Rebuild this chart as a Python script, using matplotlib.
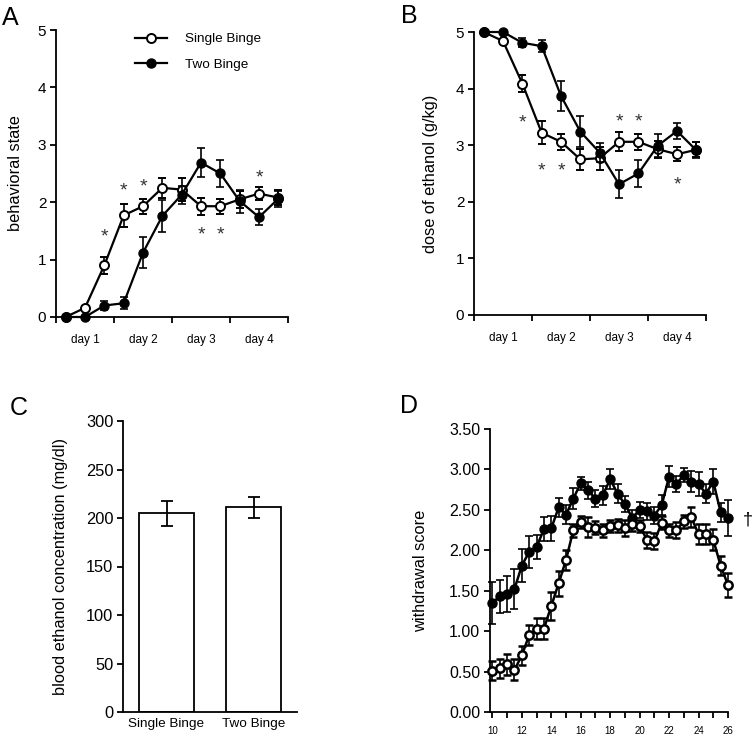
import numpy as np
import matplotlib
matplotlib.use("Agg")
import matplotlib.pyplot as plt

plt.rcParams["font.family"] = ["Liberation Sans", "DejaVu Sans"]

# panel A / B : 12 sessions, 3 per day
sessions = np.arange(12)
day_labels = ["day 1", "day 2", "day 3", "day 4"]

a_single = [0, 0.16, 0.90, 1.77, 1.93, 2.25, 2.22, 1.93, 1.93, 2.05, 2.15, 2.08]
a_single_err = [0, 0, 0.15, 0.20, 0.13, 0.18, 0.20, 0.15, 0.13, 0.15, 0.12, 0.13]
a_two = [0, 0, 0.20, 0.24, 1.12, 1.76, 2.13, 2.69, 2.50, 2.02, 1.74, 2.06]
a_two_err = [0, 0, 0.08, 0.10, 0.27, 0.28, 0.16, 0.25, 0.23, 0.20, 0.14, 0.14]
a_stars_x = [2, 3, 4, 7, 8, 10]
a_stars_y = [1.51, 2.31, 2.38, 1.54, 1.54, 2.54]

b_single = [5.0, 4.84, 4.09, 3.22, 3.06, 2.75, 2.77, 3.06, 3.06, 2.93, 2.84, 2.92]
b_single_err = [0, 0, 0.15, 0.20, 0.14, 0.18, 0.20, 0.17, 0.14, 0.15, 0.12, 0.13]
b_two = [5.0, 5.0, 4.81, 4.75, 3.87, 3.24, 2.87, 2.31, 2.50, 2.99, 3.25, 2.91]
b_two_err = [0, 0, 0.08, 0.10, 0.27, 0.28, 0.17, 0.25, 0.24, 0.20, 0.14, 0.14]
b_stars_x = [2, 3, 4, 7, 8, 10]
b_stars_y = [3.51, 2.66, 2.66, 3.53, 3.53, 2.41]

# panel C
groups = ["Single Binge", "Two Binge"]
bec = [205, 211]
bec_err = [13, 10.5]

# panel D
hours = np.arange(10, 26.5, 0.5)
d_two = [1.35, 1.43, 1.46, 1.52, 1.81, 1.98, 2.04, 2.26, 2.27, 2.53, 2.44, 2.64,
         2.83, 2.74, 2.64, 2.68, 2.88, 2.70, 2.57, 2.40, 2.50, 2.48, 2.43, 2.56,
         2.91, 2.82, 2.93, 2.85, 2.82, 2.70, 2.85, 2.47, 2.40]
d_two_err = [0.26, 0.20, 0.22, 0.25, 0.20, 0.20, 0.15, 0.15, 0.15, 0.12, 0.12, 0.13,
             0.08, 0.10, 0.10, 0.12, 0.12, 0.12, 0.10, 0.10, 0.10, 0.10, 0.10, 0.12,
             0.13, 0.10, 0.09, 0.13, 0.15, 0.12, 0.15, 0.12, 0.22]
d_single = [0.51, 0.54, 0.59, 0.52, 0.70, 0.95, 1.03, 1.03, 1.31, 1.59, 1.88, 2.25,
            2.35, 2.29, 2.28, 2.25, 2.30, 2.31, 2.28, 2.32, 2.30, 2.13, 2.11, 2.34,
            2.25, 2.25, 2.36, 2.41, 2.20, 2.20, 2.13, 1.81, 1.57]
d_single_err = [0.12, 0.12, 0.13, 0.13, 0.12, 0.12, 0.13, 0.13, 0.17, 0.15, 0.12, 0.08,
                0.08, 0.12, 0.08, 0.08, 0.08, 0.08, 0.10, 0.08, 0.08, 0.10, 0.10, 0.08,
                0.08, 0.10, 0.08, 0.12, 0.12, 0.12, 0.13, 0.12, 0.15]

fig = plt.figure(figsize=(7.56, 7.37), dpi=100)


def px_axes(l, t, r, b):
    W, H = 756, 737
    return fig.add_axes([l / W, 1 - b / H, (r - l) / W, (b - t) / H])


def style(ax, fs=11):
    for s in ["top", "right"]:
        ax.spines[s].set_visible(False)
    for s in ["left", "bottom"]:
        ax.spines[s].set_linewidth(1.3)
    ax.tick_params(direction="out", length=4, width=1.3, labelsize=fs, pad=3)


def unclip(container):
    for art in container.get_children():
        art.set_clip_on(False)


def session_panel(ax, single, single_err, two, two_err, sx, sy, ylabel, lab_x):
    c1 = ax.errorbar(sessions, single, yerr=single_err, fmt="-o", color="black", lw=1.6,
                     ms=6.5, mfc="white", mec="black", mew=1.4, capsize=3, elinewidth=1.2,
                     capthick=1.2, zorder=3)
    c2 = ax.errorbar(sessions, two, yerr=two_err, fmt="-o", color="black", lw=1.6,
                     ms=6.5, mfc="black", mec="black", capsize=3, elinewidth=1.2,
                     capthick=1.2, zorder=4)
    unclip(c1)
    unclip(c2)
    for x, y in zip(sx, sy):
        ax.annotate("*", (x, y), xytext=(0, -8), textcoords="offset points",
                    ha="center", va="baseline", fontsize=14, color="#333333")
    ax.set_xlim(-0.5, 11.5)
    ax.set_ylim(0, 5)
    ax.set_yticks(range(6))
    ax.set_xticks([-0.5, 2.5, 5.5, 8.5, 11.5])
    ax.set_xticklabels([])
    ax.set_xticks([1, 4, 7, 10], minor=True)
    ax.set_xticklabels(day_labels, minor=True)
    ax.tick_params(axis="x", which="minor", length=0, labelsize=8.5, pad=12)
    ax.set_ylabel(ylabel, fontsize=11.8)
    ax.yaxis.set_label_coords(lab_x, 0.5)
    return c1, c2


# A
axA = px_axes(56, 30, 288, 317)
style(axA)
cA1, cA2 = session_panel(axA, a_single, a_single_err, a_two, a_two_err,
                         a_stars_x, a_stars_y, "behavioral state", -0.142)
axA.legend([cA1[0], cA2[0]], ["Single Binge", "Two Binge"], loc="upper left",
           bbox_to_anchor=(0.34, 0.99), frameon=False, fontsize=9.7,
           handlelength=2.4, handletextpad=1.3, labelspacing=0.95,
           borderpad=0, borderaxespad=0)

# B
axB = px_axes(474, 32, 706, 315)
style(axB)
session_panel(axB, b_single, b_single_err, b_two, b_two_err, b_stars_x, b_stars_y,
              "dose of ethanol (g/kg)", -0.155)

# C
axC = px_axes(123, 421, 297, 712)
style(axC, fs=11.8)
axC.bar([0, 1], bec, width=0.63, yerr=bec_err, color="white", edgecolor="black",
        linewidth=1.3, capsize=4, error_kw=dict(elinewidth=1.3, capthick=1.3))
axC.set_xlim(-0.5, 1.5)
axC.set_ylim(0, 300)
axC.set_yticks(range(0, 301, 50))
axC.set_xticks([0, 1])
axC.set_xticklabels(groups, fontsize=9.7)
axC.tick_params(axis="x", length=0, pad=4)
axC.set_ylabel("blood ethanol concentration (mg/dl)", fontsize=11.8)
axC.yaxis.set_label_coords(-0.316, 0.5)

# D
axD = px_axes(490, 429, 728, 712)
style(axD, fs=11.5)
cD1 = axD.errorbar(hours, d_two, yerr=d_two_err, fmt="-o", color="black", lw=1.8,
                   ms=6.5, mfc="black", mec="black", capsize=3, elinewidth=1.2,
                   capthick=1.2, zorder=3)
cD2 = axD.errorbar(hours, d_single, yerr=d_single_err, fmt="-o", color="black", lw=1.8,
                   ms=6, mfc="white", mec="black", mew=1.8, capsize=3, elinewidth=1.2,
                   capthick=1.2, zorder=4)
unclip(cD1)
unclip(cD2)
axD.text(27.35, 2.38, "\u2020", ha="center", va="center", fontsize=13, clip_on=False)
axD.set_xlim(9.84, 26)
axD.set_ylim(0, 3.5)
axD.set_yticks(np.arange(0, 3.51, 0.5))
axD.set_yticklabels([f"{v:.2f}" for v in np.arange(0, 3.51, 0.5)])
axD.set_xticks(range(10, 27, 2))
axD.set_xticks(range(11, 26, 2), minor=True)
axD.tick_params(axis="x", which="both", length=4, width=1.3, labelsize=7, pad=6)
axD.set_ylabel("withdrawal score", fontsize=11.8)
axD.yaxis.set_label_coords(-0.26, 0.5)

# panel letters
for lx, ly, letter in [(2, 25, "A"), (401, 23, "B"), (10, 415, "C"), (400, 413, "D")]:
    fig.text(lx / 756, 1 - ly / 737, letter, fontsize=18, va="baseline", ha="left")

fig.savefig("out.png", dpi=100)
